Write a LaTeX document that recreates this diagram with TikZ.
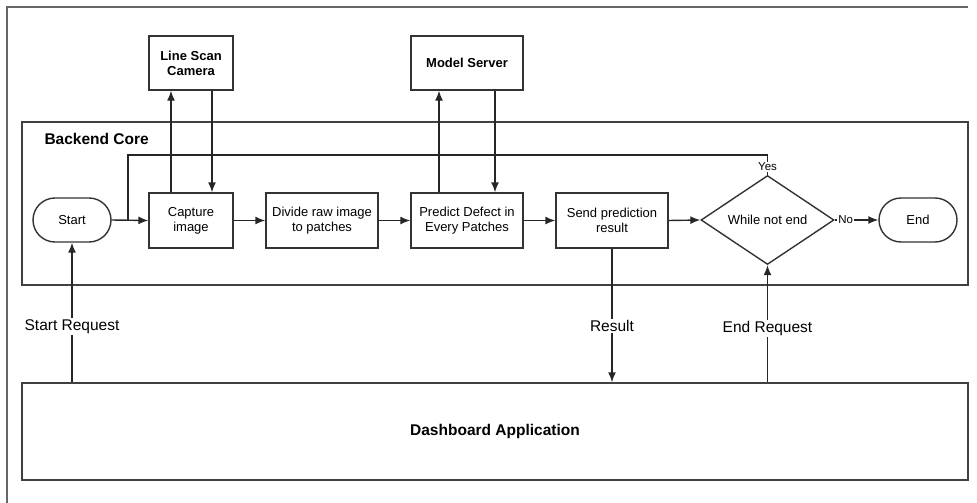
\documentclass[tikz,border=0pt]{standalone}
\usepackage{fontspec}
\setmainfont{Liberation Sans}
\usetikzlibrary{shapes.geometric,arrows.meta,calc}

\tikzset{
  flow/.style={draw=black!80, line width=1.4pt},
  procbox/.style={flow, rectangle, inner sep=2pt, align=center,
    font=\fontsize{13}{15}\selectfont},
  extbox/.style={procbox, font=\fontsize{13}{15}\selectfont\bfseries},
  terminal/.style={flow, rectangle, rounded corners=22pt, minimum width=78pt,
    minimum height=44pt, font=\fontsize{13}{15}\selectfont},
  decision/.style={flow, diamond, inner sep=0pt, minimum width=133pt,
    minimum height=86pt, font=\fontsize{13}{15}\selectfont},
  lane/.style={draw=black!75, line width=1.5pt, rectangle},
  conn/.style={draw=black!85, line width=1.4pt, -{Latex[length=10pt,width=8pt]}},
  plainconn/.style={draw=black!85, line width=1.4pt},
  lbl/.style={fill=white, inner sep=1.5pt, font=\fontsize{15.5}{17}\selectfont},
  smalllbl/.style={fill=white, inner sep=1pt, font=\fontsize{11.5}{13}\selectfont},
}

\begin{document}
\begin{tikzpicture}[x=1pt,y=-1pt]
  \useasboundingbox (0,0) rectangle (977,503);

  % outer page frame (top and left edges)
  \draw[draw=black!60, line width=2pt] (7,503) -- (7,7) -- (968,7);

  % swimlane containers
  \node[lane, minimum width=946pt, minimum height=163pt] (core) at (495,203.5) {};
  \node[anchor=west, font=\fontsize{15.5}{17}\selectfont\bfseries] (coretitle) at (41,139) {Backend Core};
  \node[lane, minimum width=946pt, minimum height=97pt,
        font=\fontsize{15.5}{17}\selectfont\bfseries] (dash) at (495,431.5) {Dashboard Application};

  % external services
  \node[extbox, minimum width=84pt, minimum height=54pt] (cam) at (191,63) {Line Scan\\Camera};
  \node[extbox, minimum width=112pt, minimum height=54pt] (ms) at (467,63) {Model Server};

  % main flow
  \node[terminal] (start) at (72,220) {Start};
  \node[procbox, minimum width=84pt, minimum height=55pt] (cap) at (191,220.5) {Capture\\image};
  \node[procbox, minimum width=112pt, minimum height=55pt] (div) at (322,220.5) {Divide raw image\\to patches};
  \node[procbox, minimum width=112pt, minimum height=55pt] (pred) at (467,220.5) {Predict Defect in\\Every Patches};
  \node[procbox, minimum width=112pt, minimum height=55pt] (send) at (612,220.5) {Send prediction\\result};
  \node[decision] (dec) at (767.5,220) {While not end};
  \node[terminal] (end) at (918,220) {End};

  % loop-back junction and route
  \coordinate (join) at (128,220);
  \coordinate (looptop) at (767.5,155);

  \draw[conn] (start.east) -- (cap.west);
  \draw[plainconn] (dec.north) -- (looptop) -| (join);
  \node[smalllbl] (yes) at (767.5,167) {Yes};

  \draw[conn] (cap) -- (div);
  \draw[conn] (div) -- (pred);
  \draw[conn] (pred) -- (send);
  \draw[conn] (send.east) -- (dec.west);
  \draw[conn] (dec.east) -- (end.west) node[smalllbl, pos=0.25] (no) {No};

  % camera exchange
  \draw[conn] ([xshift=-20pt]cap.north) -- ([xshift=-20pt]cam.south);
  \draw[conn] ([xshift=21pt]cam.south) -- ([xshift=21pt]cap.north);

  % model server exchange
  \draw[conn] ([xshift=-28pt]pred.north) -- ([xshift=-28pt]ms.south);
  \draw[conn] ([xshift=28pt]ms.south) -- ([xshift=28pt]pred.north);

  % dashboard requests and results
  \draw[conn] (dash.north -| start.south) -- (start.south)
    node[lbl, pos=0.40] (startreq) {Start Request};
  \draw[conn] (send.south) -- (send.south |- dash.north)
    node[lbl, pos=0.58] (res) {Result};
  \draw[conn] (dash.north -| dec.south) -- (dec.south)
    node[lbl, pos=0.46] (endreq) {End Request};
\end{tikzpicture}
\end{document}
